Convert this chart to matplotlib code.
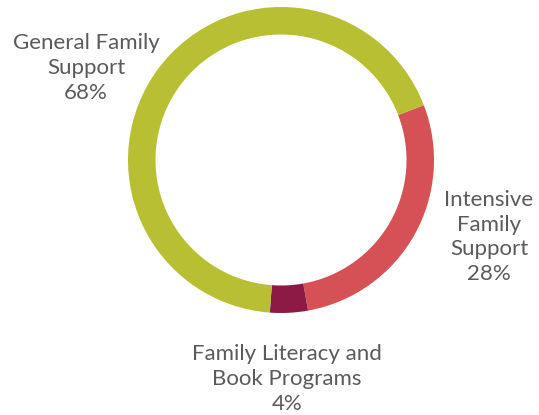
import matplotlib
matplotlib.use("Agg")
import matplotlib.pyplot as plt

# data (order drawn clockwise, starting at the top-right boundary)
categories = ["Intensive\nFamily\nSupport", "Family Literacy and\nBook Programs", "General Family\nSupport"]
shares = [28, 4, 68]
colors = ["#D65155", "#8C1A44", "#B8BF33"]

# where each label sits (pixel space of the 539x415 canvas, y from bottom)
label_xy = [(489, 415 - 237), (287, 415 - 379), (86, 415 - 68)]

plt.rcParams["font.family"] = ["Lato", "DejaVu Sans"]

fig = plt.figure(figsize=(5.39, 4.15), dpi=100)
ax = fig.add_axes([0, 0, 1, 1])

ax.pie(shares, colors=colors, startangle=21, counterclock=False,
       center=(281, 415 - 160), radius=153,
       wedgeprops=dict(width=27.5, linewidth=0))

for cat, val, (x, y) in zip(categories, shares, label_xy):
    ax.text(x, y, f"{cat}\n{val}%", ha="center", va="center",
            fontsize=16, color="#5a5a5a", linespacing=1.3)

ax.set_xlim(0, 539)
ax.set_ylim(0, 415)
ax.set_aspect("auto")
ax.axis("off")

fig.savefig("out.png", dpi=100, facecolor="white")
